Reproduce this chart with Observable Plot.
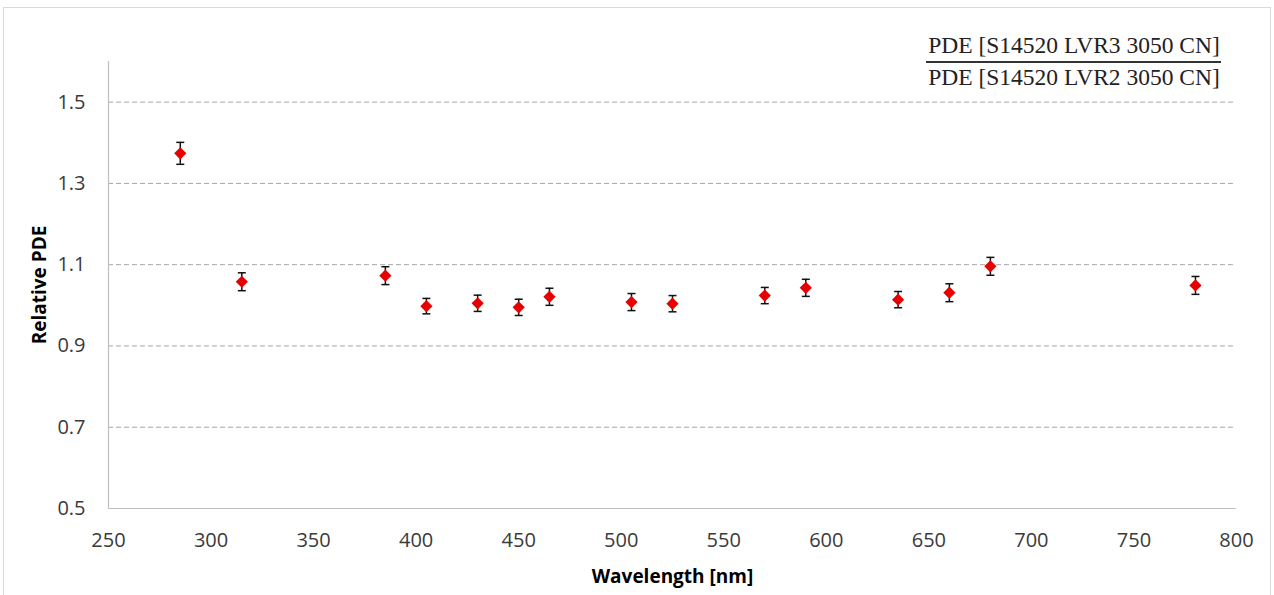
<!DOCTYPE html>
<html>
<head>
<meta charset="utf-8">
<script src="https://cdn.jsdelivr.net/npm/d3@7"></script>
<script src="https://cdn.jsdelivr.net/npm/@observablehq/plot@0.6"></script>
<style>
  html, body { margin: 0; padding: 0; background: #fff; }
  #wrap { position: relative; width: 1274px; height: 595px; overflow: hidden; }
  #frame { position: absolute; left: 3px; top: 7px; width: 1268px; height: 600px; border: 1px solid #d9d9d9; box-sizing: border-box; }
  #chart { position: absolute; left: 0; top: 0; }
  .frac { position: absolute; left: 924px; width: 300px; text-align: center; font-family: "Liberation Serif", "DejaVu Serif", serif; font-size: 23.5px; line-height: 23px; color: #222; white-space: nowrap; }
  #fracline { position: absolute; left: 926px; top: 61px; width: 295px; height: 0; border-top: 2px solid #333; }
  g[aria-label$="axis label"] text { font-weight: 700; font-size: 19px; fill: #000; }
</style>
</head>
<body>
<div id="wrap">
  <div id="frame"></div>
  <div id="chart"></div>
  <div class="frac" id="num" style="top:34px">PDE [S14520 LVR3 3050 CN]</div>
  <div id="fracline"></div>
  <div class="frac" id="den" style="top:66px">PDE [S14520 LVR2 3050 CN]</div>
</div>
<script>
// Wavelength [nm]
const wavelengths = [285, 315, 385, 405, 430, 450, 465, 505, 525, 570, 590, 635, 660, 680, 780];
// Relative PDE (ratio LVR3 / LVR2)
const ratios = [1.374, 1.058, 1.073, 0.998, 1.005, 0.995, 1.021, 1.008, 1.004, 1.024, 1.043, 1.014, 1.031, 1.096, 1.049];
// Error bar half-widths
const errors = [0.027, 0.022, 0.022, 0.019, 0.020, 0.020, 0.021, 0.021, 0.020, 0.020, 0.021, 0.020, 0.022, 0.022, 0.022];

const xTicks = [250, 300, 350, 400, 450, 500, 550, 600, 650, 700, 750, 800];
const yTicks = [0.5, 0.7, 0.9, 1.1, 1.3, 1.5];
const gridTicks = [0.7, 0.9, 1.1, 1.3, 1.5];

const data = wavelengths.map((w, i) => ({ w, r: ratios[i], lo: ratios[i] - errors[i], hi: ratios[i] + errors[i] }));

const capSymbol = {
  draw(ctx, size) {
    const w = Math.sqrt(size / Math.PI);
    ctx.moveTo(-w, 0);
    ctx.lineTo(w, 0);
  }
};

const chart = Plot.plot({
  width: 1274,
  height: 595,
  marginLeft: 108,
  marginRight: 38,
  marginTop: 61,
  marginBottom: 87,
  x: { type: "linear", domain: [250, 800] },
  y: { type: "linear", domain: [0.5, 1.6] },
  style: { fontFamily: "'Open Sans', sans-serif", fontSize: "20px", color: "#3a3a3a", background: "transparent" },
  marks: [
    Plot.gridY(gridTicks, { stroke: "#a6a6a6", strokeOpacity: 1, strokeDasharray: "5,3" }),
    Plot.ruleY([0.5], { stroke: "#bfbfbf", strokeWidth: 1.2 }),
    Plot.ruleX([250], { stroke: "#bfbfbf", strokeWidth: 1.2 }),
    Plot.axisY(yTicks, { tickSize: 0, tickPadding: 23, tickFormat: d3.format(".1f"), label: "Relative PDE", labelArrow: "none", labelAnchor: "center", labelOffset: 76 }),
    Plot.axisX(xTicks, { tickSize: 0, tickPadding: 24, tickFormat: d3.format("d"), label: "Wavelength [nm]", labelArrow: "none", labelAnchor: "center", labelOffset: 74 }),
    Plot.ruleX(data, { x: "w", y1: "lo", y2: "hi", stroke: "#111", strokeWidth: 1.5 }),
    Plot.dot(data, { x: "w", y: "lo", symbol: capSymbol, r: 4, stroke: "#111", strokeWidth: 1.5, fill: "none" }),
    Plot.dot(data, { x: "w", y: "hi", symbol: capSymbol, r: 4, stroke: "#111", strokeWidth: 1.5, fill: "none" }),
    Plot.dot(data, { x: "w", y: "r", symbol: "diamond2", r: 5.5, fill: "#e60000", stroke: "none" })
  ]
});
document.getElementById("chart").appendChild(chart);
</script>
</body>
</html>
